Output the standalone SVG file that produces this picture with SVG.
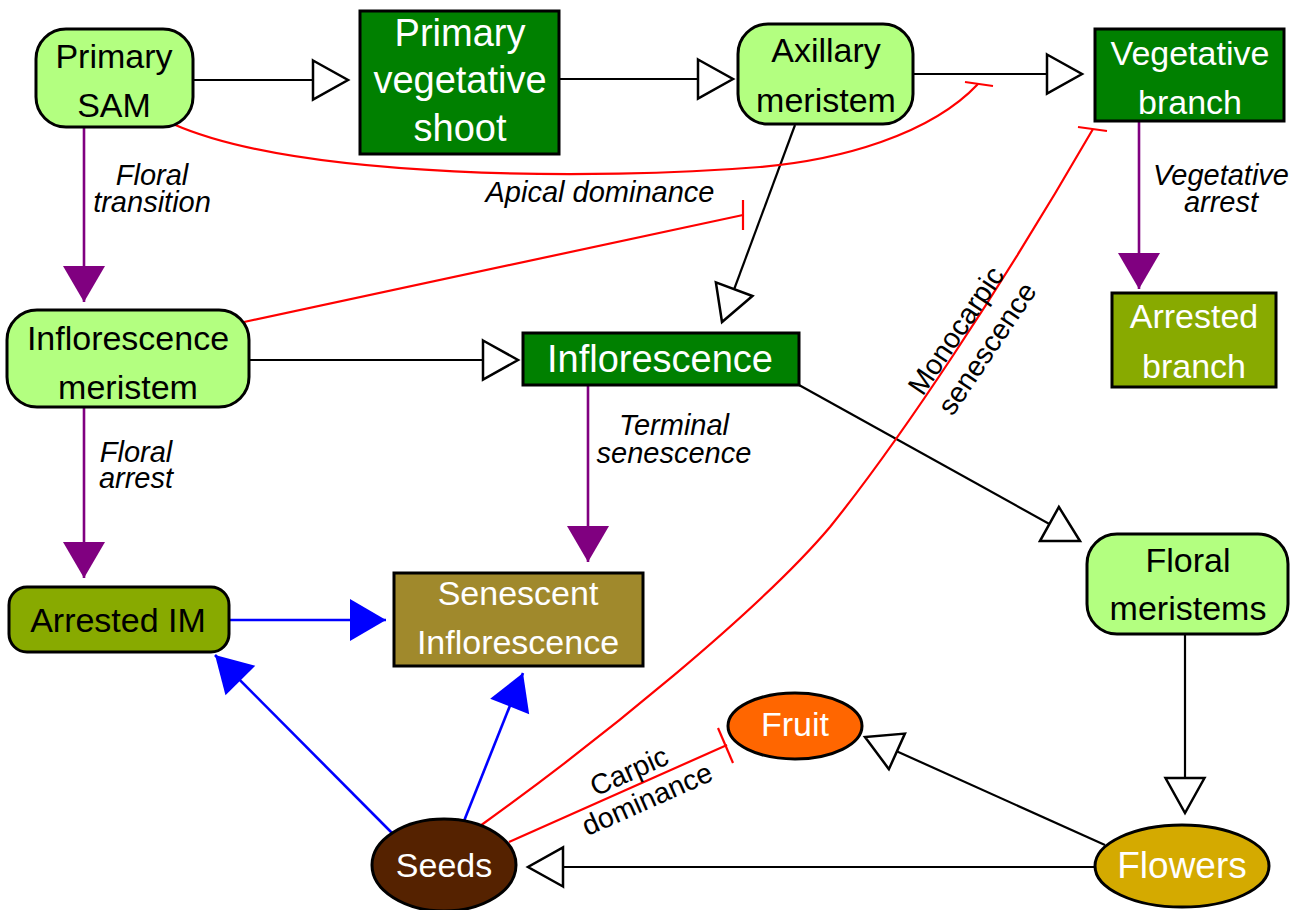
<svg xmlns="http://www.w3.org/2000/svg" width="1305" height="910" viewBox="0 0 1305 910">
<style>
.nt{font-family:"Liberation Sans",Arial,sans-serif;font-size:34px;text-anchor:middle}
.big{font-size:38px}
.w{fill:#fff}
.b{fill:#000}
.lab{font-family:"Liberation Sans",Arial,sans-serif;font-size:29px;font-style:italic;text-anchor:middle;fill:#000}
.lab2{font-family:"Liberation Sans",Arial,sans-serif;font-size:28.5px;text-anchor:middle;fill:#000}
.box{stroke:#000;stroke-width:3}
.c{fill:none;stroke-width:2.2}
.k{stroke:#000;marker-end:url(#hollow)}
.p{stroke:#800080;stroke-width:2.6;marker-end:url(#purp)}
.bl{stroke:#0000ff;stroke-width:2.6;marker-end:url(#blue)}
.r{stroke:#ff0000}
</style>
<defs>
<marker id="hollow" markerUnits="userSpaceOnUse" markerWidth="40" markerHeight="44" refX="36" refY="21" orient="auto" overflow="visible">
<path d="M1,1.5 L36,21 L1,40.5 Z" fill="#fff" stroke="#000" stroke-width="2.5"/>
</marker>
<marker id="purp" markerUnits="userSpaceOnUse" markerWidth="40" markerHeight="44" refX="36" refY="21" orient="auto" overflow="visible">
<path d="M0,0 L36,21 L0,42 Z" fill="#800080"/>
</marker>
<marker id="blue" markerUnits="userSpaceOnUse" markerWidth="40" markerHeight="44" refX="36" refY="21" orient="auto" overflow="visible">
<path d="M0,0 L36,21 L0,42 Z" fill="#0000ff"/>
</marker>
</defs>
<rect width="1305" height="910" fill="#fff"/>
<g id="connectors">
<path class="c k" d="M193,80 L348,80"/>
<path class="c k" d="M560,79 L733,79"/>
<path class="c k" d="M913,74 L1082,74"/>
<path class="c p" d="M84,127 L84,302"/>
<path class="c k" d="M249,360 L518,360"/>
<path class="c k" d="M795,125 L722,322"/>
<path class="c p" d="M84,407 L84,578"/>
<path class="c p" d="M588,385 L588,562"/>
<path class="c p" d="M1139,121 L1139,289"/>
<path class="c k" d="M799,385 L1080,541"/>
<path class="c k" d="M1185,634 L1185,813"/>
<path class="c k" d="M1105,845 L865,737"/>
<path class="c k" d="M1095,867 L528,867"/>
<path class="c bl" d="M229,620 L386,620"/>
<path class="c bl" d="M392,833 L215,655"/>
<path class="c bl" d="M464,821 L523,673"/>
<path class="c r" d="M173,124 C300,180 600,180 760,167 C840,160 930,135 978,84"/>
<path class="c r" d="M965,82 L993,86"/>
<path class="c r" d="M244,322 L743,215"/>
<path class="c r" d="M743,200 L743,230"/>
<path class="c r" d="M480,826 C600,740 760,610 830,527 C900,440 1000,290 1093,129"/>
<path class="c r" d="M1078,127 L1107,131"/>
<path class="c r" d="M509,842 L727,745"/>
<path class="c r" d="M718,728 L733,763"/>
</g>
<g id="labels">
<text class="lab" x="152" y="185">Floral</text>
<text class="lab" x="152" y="212">transition</text>
<text class="lab" x="600" y="202">Apical dominance</text>
<text class="lab" x="136" y="462">Floral</text>
<text class="lab" x="136" y="488">arrest</text>
<text class="lab" x="674" y="435">Terminal</text>
<text class="lab" x="674" y="463">senescence</text>
<text class="lab" x="1221" y="185">Vegetative</text>
<text class="lab" x="1221" y="212">arrest</text>
<text class="lab2" transform="translate(633,780) rotate(-24)">Carpic</text>
<text class="lab2" transform="translate(651,808) rotate(-24)">dominance</text>
<text class="lab2" transform="translate(964,336) rotate(-56)">Monocarpic</text>
<text class="lab2" transform="translate(995,354) rotate(-56)">senescence</text>
</g>
<g id="primary-sam">
<rect class="box" x="36" y="29" width="157" height="98" rx="30" fill="#b3ff80"/>
<text class="nt b" x="114" y="68">Primary</text>
<text class="nt b" x="114" y="117">SAM</text>
</g>
<g id="primary-vegetative-shoot">
<rect class="box" x="360" y="11" width="199" height="143" fill="#008000"/>
<text class="nt big w" x="460" y="46">Primary</text>
<text class="nt big w" x="460" y="93">vegetative</text>
<text class="nt big w" x="460" y="141">shoot</text>
</g>
<g id="axillary-meristem">
<rect class="box" x="738" y="24" width="175" height="100" rx="30" fill="#b3ff80"/>
<text class="nt b" x="826" y="62">Axillary</text>
<text class="nt b" x="826" y="112">meristem</text>
</g>
<g id="vegetative-branch">
<rect class="box" x="1095" y="29" width="189" height="92" fill="#008000"/>
<text class="nt w" x="1190" y="65">Vegetative</text>
<text class="nt w" x="1190" y="114">branch</text>
</g>
<g id="arrested-branch">
<rect class="box" x="1112" y="293" width="164" height="94" fill="#88aa00"/>
<text class="nt w" x="1194" y="328">Arrested</text>
<text class="nt w" x="1194" y="378">branch</text>
</g>
<g id="inflorescence-meristem">
<rect class="box" x="7" y="310" width="242" height="97" rx="30" fill="#b3ff80"/>
<text class="nt b" x="128" y="350">Inflorescence</text>
<text class="nt b" x="128" y="399">meristem</text>
</g>
<g id="inflorescence">
<rect class="box" x="523" y="333" width="276" height="52" fill="#008000"/>
<text class="nt big w" x="660" y="372">Inflorescence</text>
</g>
<g id="floral-meristems">
<rect class="box" x="1087" y="534" width="201" height="100" rx="30" fill="#b3ff80"/>
<text class="nt b" x="1188" y="572">Floral</text>
<text class="nt b" x="1188" y="620">meristems</text>
</g>
<g id="arrested-im">
<rect class="box" x="9" y="587" width="220" height="65" rx="18" fill="#88aa00"/>
<text class="nt b" x="118" y="632">Arrested IM</text>
</g>
<g id="senescent-inflorescence">
<rect class="box" x="394" y="573" width="249" height="93" fill="#a0892c"/>
<text class="nt w" x="518" y="605">Senescent</text>
<text class="nt w" x="518" y="654">Inflorescence</text>
</g>
<g id="fruit">
<ellipse class="box" cx="795" cy="726" rx="67" ry="33" fill="#ff6600"/>
<text class="nt w" x="795" y="736">Fruit</text>
</g>
<g id="seeds">
<ellipse class="box" cx="444" cy="865" rx="72" ry="46" fill="#552200"/>
<text class="nt w" x="444" y="877">Seeds</text>
</g>
<g id="flowers">
<ellipse class="box" cx="1182" cy="866" rx="87" ry="41" fill="#d4aa00"/>
<text class="nt w" x="1182" y="878" style="font-size:37px">Flowers</text>
</g>
</svg>
